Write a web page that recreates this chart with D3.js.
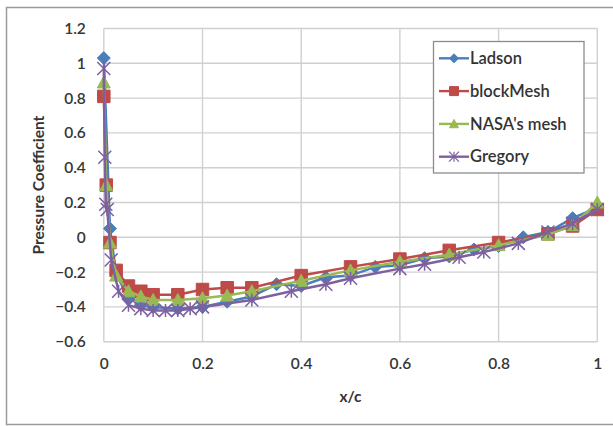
<!DOCTYPE html>
<html><head><meta charset="utf-8">
<script src="https://cdn.jsdelivr.net/npm/d3@7"></script>
<style>html,body{margin:0;padding:0;background:#fff;}svg{display:block;}</style>
</head><body>
<svg id="c" width="613" height="426"></svg>
<script>
const seriesNames = ["Ladson", "blockMesh", "NASA's mesh", "Gregory"];
const seriesColors = ["#4A7EBB", "#BE4B48", "#98B954", "#7D60A0"];

const ladsonX = [0, 0.0125, 0.025, 0.05, 0.075, 0.1, 0.15, 0.2, 0.25, 0.3, 0.35, 0.4, 0.45, 0.5, 0.55, 0.6, 0.65, 0.7, 0.75, 0.8, 0.85, 0.9, 0.95, 1];
const ladsonY = [1.03, 0.05, -0.21, -0.35, -0.39, -0.40, -0.41, -0.40, -0.37, -0.34, -0.27, -0.28, -0.23, -0.22, -0.17, -0.16, -0.12, -0.11, -0.07, -0.05, 0.00, 0.03, 0.11, 0.17];

const meshX = [0, 0.005, 0.0125, 0.025, 0.05, 0.075, 0.1, 0.15, 0.2, 0.25, 0.3, 0.4, 0.5, 0.6, 0.7, 0.8, 0.9, 0.95, 1];
const blockMeshY = [0.81, 0.30, -0.03, -0.19, -0.28, -0.31, -0.33, -0.33, -0.30, -0.29, -0.29, -0.22, -0.17, -0.125, -0.075, -0.03, 0.02, 0.065, 0.16];
const nasaY = [0.89, 0.30, -0.03, -0.22, -0.31, -0.34, -0.36, -0.36, -0.35, -0.335, -0.31, -0.25, -0.19, -0.14, -0.10, -0.045, 0.015, 0.07, 0.20];

const gregoryX = [0, 0.002, 0.004, 0.007, 0.015, 0.03, 0.05, 0.075, 0.1, 0.125, 0.15, 0.175, 0.2, 0.3, 0.38, 0.45, 0.5, 0.6, 0.65, 0.72, 0.77, 0.84, 0.9, 0.95, 1];
const gregoryY = [0.97, 0.46, 0.19, 0.16, -0.13, -0.31, -0.39, -0.41, -0.42, -0.42, -0.42, -0.41, -0.40, -0.36, -0.31, -0.27, -0.235, -0.18, -0.155, -0.115, -0.085, -0.035, 0.03, 0.08, 0.16];

const xTicks = [0, 0.2, 0.4, 0.6, 0.8, 1];
const yTicks = [-0.6, -0.4, -0.2, 0, 0.2, 0.4, 0.6, 0.8, 1, 1.2];

const series = [
  {name: seriesNames[0], color: seriesColors[0], xs: ladsonX, ys: ladsonY, marker: "diamond"},
  {name: seriesNames[1], color: seriesColors[1], xs: meshX, ys: blockMeshY, marker: "square"},
  {name: seriesNames[2], color: seriesColors[2], xs: meshX, ys: nasaY, marker: "triangle"},
  {name: seriesNames[3], color: seriesColors[3], xs: gregoryX, ys: gregoryY, marker: "star"}
];

const svg = d3.select("#c");
const L = 103.8, R = 597.3, T = 28.5, B = 341.7;
const x = d3.scaleLinear().domain([0, 1]).range([L, R]);
const y = d3.scaleLinear().domain([-0.6, 1.2]).range([B, T]);

// outer frame
svg.append("rect").attr("x", 6.5).attr("y", 7.5).attr("width", 620).attr("height", 417)
  .attr("fill", "#fff").attr("stroke", "#9a9a9a").attr("stroke-width", 1.5);

// grid
const gridColor = "#d0d0d0";
svg.append("g").selectAll("line").data(yTicks).join("line")
  .attr("x1", L).attr("x2", R).attr("y1", d => y(d)).attr("y2", d => y(d))
  .attr("stroke", gridColor).attr("stroke-width", 1.4);
svg.append("g").selectAll("line").data(xTicks).join("line")
  .attr("y1", T).attr("y2", B).attr("x1", d => x(d)).attr("x2", d => x(d))
  .attr("stroke", gridColor).attr("stroke-width", 1.4);

// axes (labels only)
const fontFam = "Lato, 'Open Sans', sans-serif";
const yAxis = d3.axisLeft(y).tickValues(yTicks).tickSize(0).tickPadding(0).tickFormat(d => d3.format("")(+d.toFixed(1)));
const gy = svg.append("g").attr("transform", `translate(${L - 18},0)`).call(yAxis);
gy.select(".domain").remove();
gy.selectAll("text").attr("font-family", fontFam).attr("font-size", 15.5).attr("fill", "#363636").attr("font-weight", 600);

const xAxis = d3.axisBottom(x).tickValues(xTicks).tickSize(0).tickPadding(0).tickFormat(d => d3.format("")(+d.toFixed(1)));
const gx = svg.append("g").attr("transform", `translate(0,${B + 16})`).call(xAxis);
gx.select(".domain").remove();
gx.selectAll("text").attr("font-family", fontFam).attr("font-size", 15.5).attr("fill", "#363636").attr("font-weight", 600);

// axis titles
svg.append("text").attr("x", (L + R) / 2).attr("y", 402).attr("text-anchor", "middle")
  .attr("font-family", fontFam).attr("font-size", 15.5).attr("font-weight", 700).attr("fill", "#333").text("x/c");
svg.append("text").attr("transform", `translate(44,${(T + B) / 2}) rotate(-90)`).attr("text-anchor", "middle")
  .attr("font-family", fontFam).attr("font-size", 15.5).attr("font-weight", 700).attr("fill", "#333").text("Pressure Coefficient");

// marker shapes
function markerPath(type, s) {
  const h = s / 2;
  if (type === "diamond") return `M0,${-h}L${h},0L0,${h}L${-h},0Z`;
  if (type === "square") return `M${-h},${-h}H${h}V${h}H${-h}Z`;
  if (type === "triangle") return `M0,${-h}L${h},${h * 0.85}L${-h},${h * 0.85}Z`;
  return `M${-h},${-h}L${h},${h}M${-h},${h}L${h},${-h}M0,${-h}V${h}`;
}

const line = d3.line().x(d => x(d[0])).y(d => y(d[1]));
const plot = svg.append("g");
series.forEach(s => {
  const pts = s.xs.map((v, i) => [v, s.ys[i]]);
  const g = plot.append("g");
  g.append("path").datum(pts).attr("d", line).attr("fill", "none").attr("stroke", s.color).attr("stroke-width", 2.5);
  const size = s.marker === "square" ? 12.5 : (s.marker === "diamond" ? 13 : 13);
  g.selectAll("path.m").data(pts).join("path").attr("class", "m")
    .attr("transform", d => `translate(${x(d[0])},${y(d[1])})`)
    .attr("d", markerPath(s.marker, size))
    .attr("fill", s.marker === "star" ? "none" : s.color)
    .attr("stroke", s.color).attr("stroke-width", s.marker === "star" ? 1.5 : 1);
});

// legend
const lg = svg.append("g");
lg.append("rect").attr("x", 433.5).attr("y", 41.5).attr("width", 150.5).attr("height", 131.5)
  .attr("fill", "#fff").attr("stroke", "#8c8c8c").attr("stroke-width", 1.3);
series.forEach((s, i) => {
  const cy = 58.3 + i * 32.8;
  lg.append("line").attr("x1", 439).attr("x2", 469).attr("y1", cy).attr("y2", cy).attr("stroke", s.color).attr("stroke-width", 2.4);
  lg.append("path").attr("transform", `translate(454,${cy})`).attr("d", markerPath(s.marker, s.marker === "star" ? 10 : 9))
    .attr("fill", s.marker === "star" ? "none" : s.color).attr("stroke", s.color).attr("stroke-width", s.marker === "star" ? 1.2 : 1);
  lg.append("text").attr("x", 470).attr("y", cy).attr("dy", "0.35em")
    .attr("font-family", fontFam).attr("font-size", 16.5).attr("font-weight", 600).attr("fill", "#333").text(s.name);
});
</script>
</body></html>
